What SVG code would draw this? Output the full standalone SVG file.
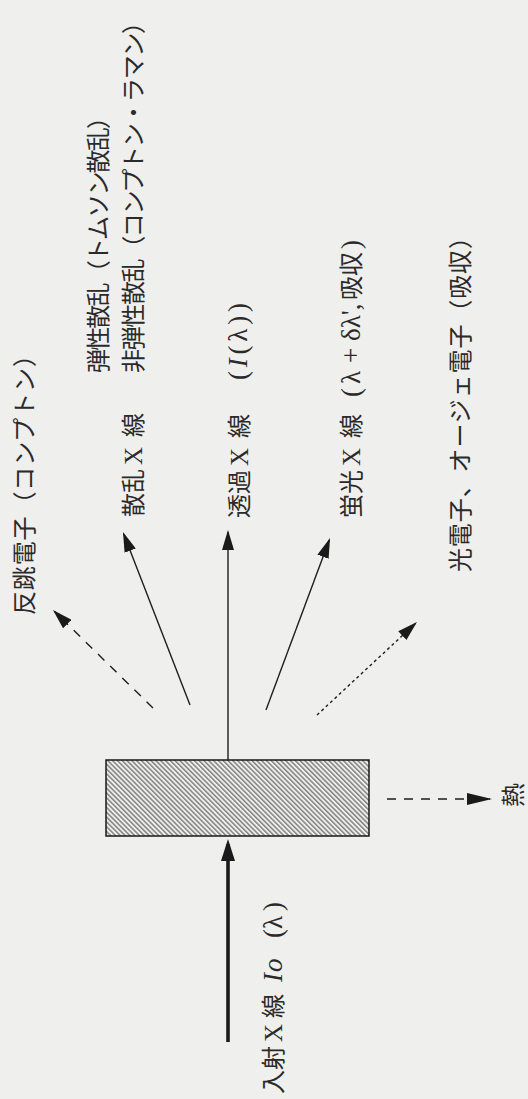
<svg xmlns="http://www.w3.org/2000/svg" width="528" height="1099" viewBox="0 0 528 1099">
<style>
.lbl{font-family:"Noto Sans CJK JP","Noto Sans",sans-serif;font-size:24px;fill:#2a2a2a;}
.ser{font-family:"Liberation Serif",serif;font-size:25px;}
.math{font-family:"Liberation Serif",serif;font-size:27px;}
.it{font-style:italic;}
.ln{stroke:#1e1e1e;stroke-width:1.4;fill:none;}
.thick{stroke:#1a1a1a;stroke-width:3.6;fill:none;}
.dash{stroke-dasharray:9 8;}
.dot{stroke-dasharray:3 3;}
</style>
<defs>
<marker id="ah" markerUnits="userSpaceOnUse" markerWidth="20" markerHeight="12" refX="18" refY="6" orient="auto">
<path d="M0,0 L20,6 L0,12 z" fill="#1a1a1a"/>
</marker>
<marker id="ahb" markerUnits="userSpaceOnUse" markerWidth="22" markerHeight="14" refX="17" refY="7" orient="auto">
<path d="M0,0 L22,7 L0,14 z" fill="#1a1a1a"/>
</marker>
<marker id="ahh" markerUnits="userSpaceOnUse" markerWidth="25" markerHeight="12" refX="23" refY="6" orient="auto">
<path d="M0,0 L25,6 L0,12 z" fill="#1a1a1a"/>
</marker>
<pattern id="hatch" patternUnits="userSpaceOnUse" width="3.4" height="10" patternTransform="rotate(-45)">
<line x1="0.8" y1="0" x2="0.8" y2="10" stroke="#4a4a4a" stroke-width="1"/>
</pattern>
</defs>
<rect x="0" y="0" width="528" height="1099" fill="#efefed"/>

<g id="connectors">
<line class="thick" x1="228" y1="1042" x2="228" y2="844" marker-end="url(#ahb)"/>
<line class="ln" x1="228" y1="760" x2="228" y2="532" marker-end="url(#ah)"/>
<line class="ln" x1="190" y1="705" x2="123.7" y2="533.9" marker-end="url(#ah)"/>
<line class="ln" x1="266" y1="710" x2="329.3" y2="539.9" marker-end="url(#ah)"/>
<line class="ln dash" x1="153" y1="708" x2="54.4" y2="611.4" marker-end="url(#ah)"/>
<line class="ln dot" x1="317" y1="715" x2="415.5" y2="623.4" marker-end="url(#ah)"/>
<line class="ln dash" x1="387" y1="799" x2="490" y2="799" marker-end="url(#ahh)"/>
</g>

<g id="sample">
<rect x="106" y="760" width="263" height="76" fill="url(#hatch)" stroke="#1a1a1a" stroke-width="1.5"/>
</g>

<g id="incident">
<text class="lbl" transform="translate(282,1094) rotate(-90)"><tspan x="0">入射</tspan><tspan class="ser" x="52">X</tspan><tspan x="76">線</tspan><tspan class="math it" x="112">I</tspan><tspan class="math it" x="122">o</tspan><tspan class="math" x="156">(</tspan><tspan class="math" x="165">λ</tspan><tspan class="math" x="183">)</tspan></text>
</g>

<g id="recoil">
<text class="lbl" transform="translate(33,615) rotate(-90)" textLength="272" lengthAdjust="spacing">反跳電子（コンプトン）</text>
</g>

<g id="scattered">
<text class="lbl" transform="translate(142,517) rotate(-90)"><tspan x="0">散乱</tspan><tspan class="ser" x="52">X</tspan><tspan x="80">線</tspan></text>
<text class="lbl" transform="translate(107,373) rotate(-90)" textLength="268" lengthAdjust="spacing">弾性散乱（トムソン散乱）</text>
<text class="lbl" transform="translate(142,373) rotate(-90)" textLength="363" lengthAdjust="spacing">非弾性散乱（コンプトン・ラマン）</text>
</g>

<g id="transmitted">
<text class="lbl" transform="translate(248,518) rotate(-90)"><tspan x="0">透過</tspan><tspan class="ser" x="52">X</tspan><tspan x="80">線</tspan></text>
<text class="math" transform="translate(247,380) rotate(-90)" textLength="77" lengthAdjust="spacing" fill="#2a2a2a">(<tspan class="it">I</tspan>(λ))</text>
</g>

<g id="fluorescent">
<text class="lbl" transform="translate(360,518) rotate(-90)"><tspan x="0">蛍光</tspan><tspan class="ser" x="52">X</tspan><tspan x="80">線</tspan></text>
<text class="lbl" transform="translate(360,397) rotate(-90)"><tspan class="math" x="0">(</tspan><tspan class="math" x="13">λ</tspan><tspan class="math" x="34">+</tspan><tspan class="math" x="56">δλ',</tspan><tspan x="97">吸収</tspan><tspan class="math" x="148">)</tspan></text>
</g>

<g id="photoelectron">
<text class="lbl" transform="translate(469,572) rotate(-90)" textLength="347" lengthAdjust="spacing">光電子、オージェ電子（吸収）</text>
</g>

<g id="heat">
<text class="lbl" transform="translate(522,807) rotate(-90)">熱</text>
</g>
</svg>
